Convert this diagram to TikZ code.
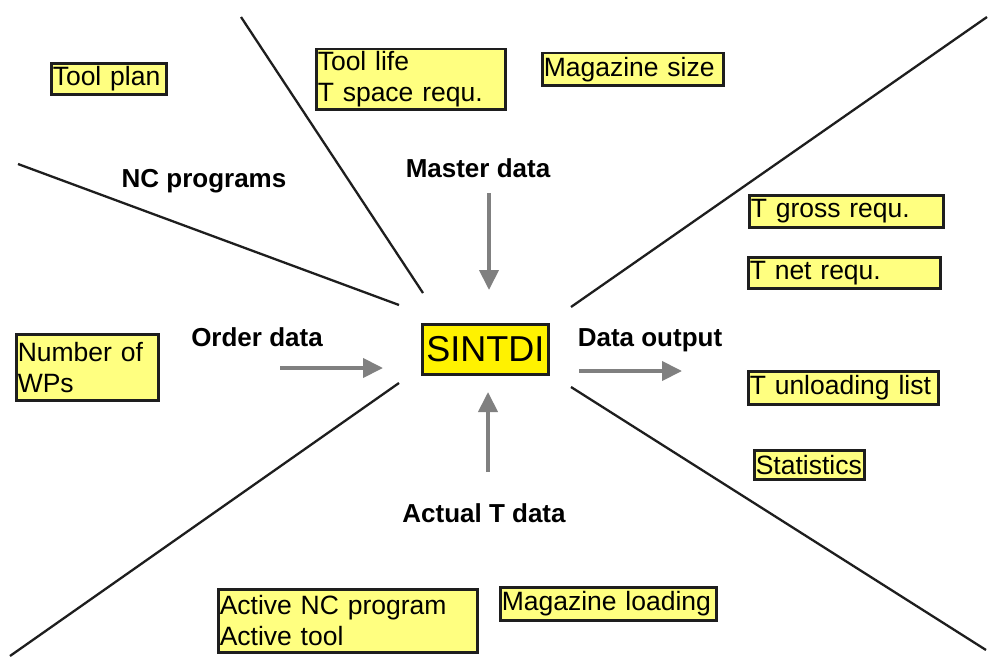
\documentclass[tikz,border=0pt]{standalone}
\usepackage{fontspec}
\setmainfont{Liberation Sans}
\usetikzlibrary{arrows.meta}
\hyphenpenalty=10000
\exhyphenpenalty=10000
\definecolor{lightyel}{RGB}{255,255,128}
\definecolor{arrgray}{RGB}{128,128,128}
\definecolor{linecol}{RGB}{30,30,30}
\begin{document}
\begin{tikzpicture}[x=1pt,y=-1pt,
  ybox/.style={draw=linecol, line width=2.5pt, fill=lightyel, anchor=north west,
    inner sep=1.5pt, align=left, font=\fontsize{26.5}{31}\selectfont},
  lbl/.style={anchor=base, font=\fontsize{26}{31}\selectfont\bfseries},
  ray/.style={draw=linecol, line width=2.3pt},
  flow/.style={draw=arrgray, line width=4pt, -{Triangle[length=20pt,width=19pt]}}]
\useasboundingbox (0,0) rectangle (995,661);
% boxes
\node[ybox, text width=112pt, minimum height=31pt] (toolplan) at (50,62) {Tool plan};
\node[ybox, text width=186pt, minimum height=60pt] (toollife) at (315,48) {Tool life\\T space requ.};
\node[ybox, text width=178pt, minimum height=32pt] (magsize) at (541,52) {Magazine size};
\node[ybox, text width=191pt, minimum height=32pt] (tgross) at (748,194) {T gross requ.};
\node[ybox, text width=189pt, minimum height=31pt] (tnet) at (747,256) {T net requ.};
\node[ybox, text width=139pt, minimum height=66pt] (numwp) at (15,333) {Number of\\WPs};
\node[ybox, fill=yellow, align=center, text width=123pt, minimum height=50pt,
  font=\fontsize{36}{40}\selectfont] (sintdi) at (421,323) {SINTDI};
\node[ybox, text width=187pt, minimum height=33pt] (tunload) at (747,370) {T unloading list};
\node[ybox, text width=107pt, minimum height=29pt] (stats) at (753,449) {Statistics};
\node[ybox, text width=256pt, minimum height=63pt] (active) at (217,588) {Active NC program\\Active tool};
\node[ybox, text width=213pt, minimum height=33pt] (magload) at (499,586) {Magazine loading};
% labels
\node[lbl] (ncprog) at (204,187) {NC programs};
\node[lbl] (master) at (478,177) {Master data};
\node[lbl] (order) at (257,346) {Order data};
\node[lbl] (output) at (650,346) {Data output};
\node[lbl] (actual) at (484,522) {Actual T data};
% rays
\coordinate (r1a) at (241,17);  \coordinate (r1b) at (423,293);
\coordinate (r2a) at (18,164);  \coordinate (r2b) at (399,305);
\coordinate (r3a) at (987,17);  \coordinate (r3b) at (571,307);
\coordinate (r4a) at (571,387); \coordinate (r4b) at (986,650);
\coordinate (r5a) at (399,383); \coordinate (r5b) at (10,656);
\draw[ray] (r1a) -- (r1b);
\draw[ray] (r2a) -- (r2b);
\draw[ray] (r3a) -- (r3b);
\draw[ray] (r4a) -- (r4b);
\draw[ray] (r5a) -- (r5b);
% arrows
\coordinate (m0) at (489,193); \coordinate (m1) at (489,290);
\coordinate (o0) at (280,368); \coordinate (o1) at (383,368);
\coordinate (d0) at (579,371); \coordinate (d1) at (682,371);
\coordinate (a0) at (488,472); \coordinate (a1) at (488,392);
\draw[flow] (m0) -- (m1);
\draw[flow] (o0) -- (o1);
\draw[flow] (d0) -- (d1);
\draw[flow] (a0) -- (a1);
\end{tikzpicture}
\end{document}
